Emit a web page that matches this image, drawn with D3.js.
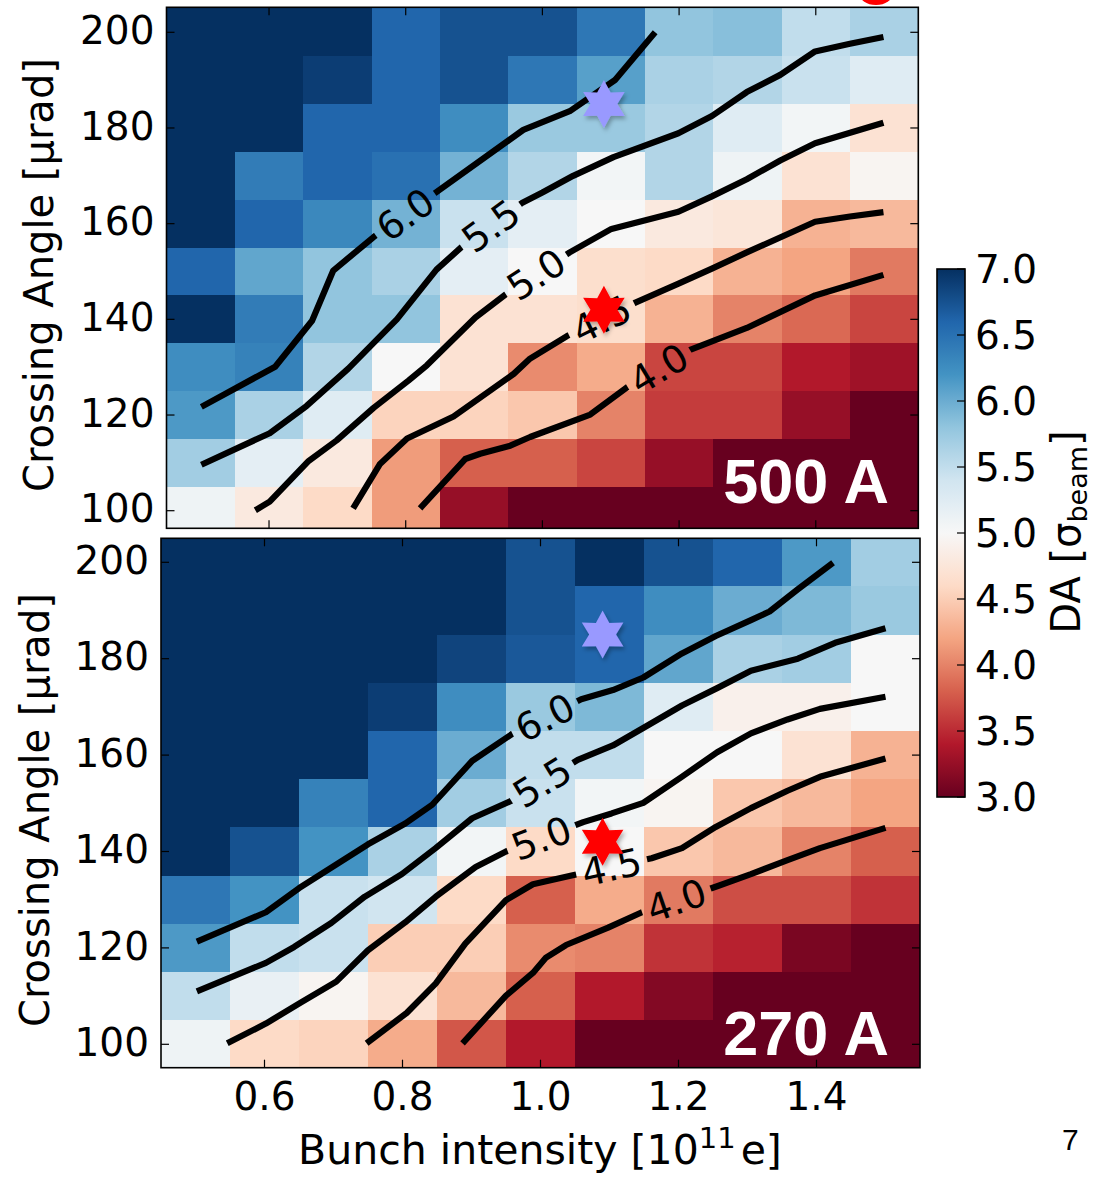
<!DOCTYPE html>
<html><head><meta charset="utf-8">
<script src="https://cdn.jsdelivr.net/npm/d3@7"></script>
<style>
body{margin:0;background:#fff}
svg{display:block}
text{font-family:"DejaVu Sans",sans-serif}
</style>
</head><body>
<svg id="c" width="1093" height="1177"></svg>
<script>
// ---------------- data ----------------
const xCenters = [0.5,0.6,0.7,0.8,0.9,1.0,1.1,1.2,1.3,1.4,1.5];
const yCenters = [200,190,180,170,160,150,140,130,120,110,100];
const xTicks = [0.6,0.8,1.0,1.2,1.4];
const yTicks = [100,120,140,160,180,200];
const cbTicks = [3.0,3.5,4.0,4.5,5.0,5.5,6.0,6.5,7.0];
const levelLabels = ["6.0","5.5","5.0","4.5","4.0"];

// DA values, rows from 200 down to 100 urad, columns 0.5 .. 1.5
const daTop = [
 [7.2,7.2,7.2,6.6,6.75,6.75,6.45,5.8,5.85,5.5,5.65],
 [7.2,7.2,6.9,6.6,6.75,6.45,6.1,5.65,5.6,5.45,5.25],
 [7.2,7.2,6.6,6.6,6.25,5.75,5.75,5.6,5.25,5.05,4.7],
 [7.2,6.4,6.6,6.5,5.95,5.6,5.05,5.6,5.1,4.7,4.95],
 [7.2,6.6,6.3,5.95,5.45,5.2,5.0,4.8,4.75,4.3,4.35],
 [6.6,6.05,5.8,5.65,5.2,5.0,4.65,4.6,4.3,4.2,3.95],
 [7.2,6.4,5.8,5.8,4.7,4.7,4.65,4.3,4.0,3.85,3.65],
 [6.25,6.35,5.6,5.0,4.7,4.05,4.25,3.65,3.65,3.4,3.3],
 [6.15,5.65,5.25,4.55,4.55,4.45,4.0,3.6,3.6,3.25,3.0],
 [5.7,5.2,4.8,4.15,3.8,3.8,3.65,3.25,3.0,3.0,3.0],
 [5.1,4.8,4.6,4.15,3.25,3.0,3.0,3.0,3.0,3.0,3.0]
];
const daBottom = [
 [7.2,7.2,7.2,7.2,7.2,6.75,7.0,6.75,6.6,6.15,5.7],
 [7.2,7.2,7.2,7.2,7.2,6.75,6.6,6.25,6.0,5.9,5.75],
 [7.2,7.2,7.2,7.2,6.85,6.7,6.6,6.05,5.65,5.7,5.0],
 [7.2,7.2,7.2,6.9,6.25,5.75,5.9,5.25,4.9,4.9,5.0],
 [7.2,7.2,7.2,6.6,6.0,5.5,5.5,5.0,5.0,4.7,4.3],
 [7.2,7.2,6.35,6.6,5.7,5.45,5.05,4.95,4.45,4.35,4.2],
 [7.2,6.75,6.2,5.65,5.05,4.6,5.0,4.45,4.35,4.0,3.8],
 [6.45,6.2,5.45,5.4,4.6,3.8,4.25,3.95,3.7,3.7,3.55],
 [6.15,5.5,5.45,4.5,4.5,4.05,4.0,3.55,3.45,3.1,3.0],
 [5.5,5.15,4.95,4.7,4.35,3.8,3.4,3.15,3.0,3.0,3.0],
 [5.1,4.6,4.55,4.25,3.75,3.4,3.0,3.0,3.0,3.0,3.0]
];

// contour lines, [intensity, angle]
const top60 = [[0.501,121.7],[0.609,130.1],[0.663,139.7],[0.694,150.2],[0.753,157.2],[0.840,166.1],[0.972,179.6],[1.04,183.5],[1.106,190.0],[1.165,200.0]];
const top55 = [[0.501,109.6],[0.601,116.2],[0.655,121.9],[0.716,129.7],[0.787,140.0],[0.845,150.4],[0.884,155.4],[0.970,164.3],[1.0,166.5],[1.045,170.0],[1.104,173.9],[1.199,178.9],[1.248,182.5],[1.299,187.5],[1.348,191.1],[1.399,196.0],[1.450,197.6],[1.499,199.0]];
const top50 = [[0.580,100.1],[0.601,101.9],[0.658,110.4],[0.699,114.7],[0.753,121.5],[0.804,127.2],[0.831,130.4],[0.902,140.4],[0.948,145.4],[1.040,154.0],[1.101,158.9],[1.199,162.5],[1.248,165.7],[1.299,169.3],[1.348,173.2],[1.399,176.8],[1.499,181.1]];
const top45 = [[0.723,100.5],[0.762,109.7],[0.802,115.1],[0.870,119.7],[0.958,128.6],[0.982,131.8],[1.036,136.5],[1.136,143.5],[1.2,147.5],[1.248,150.6],[1.299,154.0],[1.399,160.4],[1.450,161.5],[1.499,162.4]];
const top40 = [[0.821,100.5],[0.887,110.8],[0.909,111.9],[0.953,113.6],[0.982,115.4],[1.070,120.1],[1.124,125.8],[1.216,133.6],[1.299,138.2],[1.399,145.0],[1.499,149.3]];

const bot60 = [[0.502,121.3],[0.602,127.4],[0.650,132.4],[0.706,137.5],[0.750,141.5],[0.804,145.8],[0.843,149.7],[0.901,158.8],[0.960,164.5],[1.059,171.6],[1.105,173.5],[1.149,176.1],[1.205,181.1],[1.254,184.7],[1.305,188.0],[1.332,189.8],[1.373,194.4],[1.424,199.9]];
const bot55 = [[0.502,111.0],[0.602,116.9],[0.643,120.2],[0.697,125.2],[0.745,130.6],[0.799,135.3],[0.848,140.7],[0.901,146.9],[0.962,150.8],[1.054,159.0],[1.105,162.0],[1.157,166.3],[1.205,170.3],[1.256,173.9],[1.305,177.5],[1.373,180.0],[1.427,183.3],[1.5,186.3]];
const bot50 = [[0.546,100.2],[0.602,104.3],[0.653,108.7],[0.704,113.0],[0.750,119.5],[0.804,125.3],[0.848,130.6],[0.906,136.8],[0.950,140.0],[1.062,146.1],[1.103,147.9],[1.149,150.1],[1.205,155.5],[1.256,160.6],[1.305,164.5],[1.358,167.4],[1.405,169.6],[1.5,172.1]];
const bot45 = [[0.748,100.2],[0.806,106.5],[0.848,112.6],[0.891,120.9],[0.950,129.9],[0.989,133.2],[1.045,135.0],[1.161,138.6],[1.205,140.7],[1.254,145.1],[1.305,149.0],[1.358,152.6],[1.405,155.5],[1.5,159.3]];
const bot40 = [[0.887,100.2],[0.950,110.1],[0.989,114.8],[1.008,118.0],[1.037,120.6],[1.098,124.2],[1.147,127.4],[1.256,132.8],[1.305,135.3],[1.358,138.2],[1.405,140.7],[1.5,144.9]];

// contour label positions [intensity, angle]
const labelAtTop = [[0.80,161.8],[0.925,159.5],[0.99,149.6],[1.086,140.2],[1.17,129.8]];
const labelAtBottom = [[1.005,168.2],[1.0,155.0],[1.0,143.3],[1.103,136.8],[1.196,130.2]];

// working points (stars)
const starX = [1.09, 1.09];
const starY = [185, 142];
const starColors = ["#9999ff", "#ff0000"];

const captions = ["500 A", "270 A"];
const rdbu = ["#67001f","#b2182b","#d6604d","#f4a582","#fddbc7","#f7f7f7","#d1e5f0","#92c5de","#4393c3","#2166ac","#053061"];

// ---------------- drawing ----------------
const svg = d3.select("#c");
const defs = svg.append("defs");
const flt = defs.append("filter").attr("id","shadow").attr("x","-60%").attr("y","-60%").attr("width","220%").attr("height","220%");
flt.append("feDropShadow").attr("dx",2).attr("dy",3).attr("stdDeviation",2.2).attr("flood-color","#000").attr("flood-opacity",0.3);

const color = d3.scaleLinear()
  .domain(d3.range(11).map(i => 3 + 0.4 * i))
  .range(rdbu).interpolate(d3.interpolateRgb).clamp(true);

function hexagram(cx, cy, R, ratio) {
  const pts = [];
  for (let k = 0; k < 12; k++) {
    const a = (-90 + k * 30) * Math.PI / 180;
    const r = k % 2 === 0 ? R : R * ratio;
    pts.push([cx + r * Math.cos(a), cy + r * Math.sin(a)]);
  }
  return "M" + pts.map(p => p.join(",")).join("L") + "Z";
}

function nearestOnPath(pts, P) {
  let best = null;
  for (let i = 0; i < pts.length - 1; i++) {
    const A = pts[i], B = pts[i+1];
    const dx = B[0]-A[0], dy = B[1]-A[1];
    let t = ((P[0]-A[0])*dx + (P[1]-A[1])*dy) / (dx*dx+dy*dy);
    t = Math.max(0, Math.min(1, t));
    const Q = [A[0]+t*dx, A[1]+t*dy];
    const d = Math.hypot(Q[0]-P[0], Q[1]-P[1]);
    if (!best || d < best.d) best = {d, Q, ang: Math.atan2(dy, dx) * 180 / Math.PI};
  }
  return best;
}

function drawPanel(p) {
  const xs = d3.scaleLinear().domain([0.45,1.55]).range([p.left,p.right]);
  const ys = d3.scaleLinear().domain([100,200]).range([p.y100,p.y200]);
  const g = svg.append("g");

  defs.append("clipPath").attr("id", p.id+"clip")
    .append("rect").attr("x",p.left).attr("y",p.top)
    .attr("width",p.right-p.left).attr("height",p.bottom-p.top);

  // heatmap cells
  const cells = g.append("g").attr("clip-path",`url(#${p.id}clip)`).attr("shape-rendering","crispEdges");
  p.values.forEach((row, ri) => row.forEach((v, ci) => {
    const cx = xCenters[ci], cy = yCenters[ri];
    cells.append("rect")
      .attr("x", xs(cx-0.05)).attr("y", ys(cy+5))
      .attr("width", xs(cx+0.05)-xs(cx-0.05)).attr("height", ys(cy-5)-ys(cy+5))
      .attr("fill", color(v));
  }));

  // contour labels (measured first, to cut gaps in the lines)
  const mask = defs.append("mask").attr("id", p.id+"mask").attr("maskUnits","userSpaceOnUse")
    .attr("x",0).attr("y",0).attr("width",1093).attr("height",1177);
  mask.append("rect").attr("x",0).attr("y",0).attr("width",1093).attr("height",1177).attr("fill","#fff");

  const lineGen = d3.line().x(d => xs(d[0])).y(d => ys(d[1]));
  const lines = g.append("g").attr("clip-path",`url(#${p.id}clip)`)
    .append("g").attr("mask",`url(#${p.id}mask)`);
  const labG = g.append("g");

  p.contours.forEach((c, i) => {
    lines.append("path").attr("d", lineGen(c))
      .attr("fill","none").attr("stroke","#000").attr("stroke-width",6.2)
      .attr("stroke-linejoin","round").attr("stroke-linecap","butt");
    const pix = c.map(d => [xs(d[0]), ys(d[1])]);
    const L = p.labelsAt[i];
    const n = nearestOnPath(pix, [xs(L[0]), ys(L[1])]);
    let ang = n.ang;
    if (ang > 90) ang -= 180;
    if (ang < -90) ang += 180;
    const t = labG.append("text")
      .attr("transform", `translate(${n.Q[0]},${n.Q[1]}) rotate(${ang})`)
      .attr("text-anchor","middle").attr("dy","0.36em")
      .attr("font-size",38).attr("fill","#000")
      .text(levelLabels[i]);
    const w = t.node().getComputedTextLength();
    mask.append("rect")
      .attr("x", -w/2 - 6).attr("y", -14).attr("width", w + 12).attr("height", 28)
      .attr("transform", `translate(${n.Q[0]},${n.Q[1]}) rotate(${ang})`)
      .attr("fill","#000");
  });

  // stars
  starX.forEach((sx, i) => {
    g.append("path").attr("d", hexagram(xs(sx), ys(starY[i]), 24, 0.56))
      .attr("fill", starColors[i]).attr("filter","url(#shadow)");
  });

  // caption
  g.append("text").attr("x", 889).attr("y", p.captionY)
    .attr("text-anchor","end")
    .style("font-family","'Liberation Sans', Arial, sans-serif")
    .attr("font-weight","bold").attr("font-size",63).attr("fill","#fff")
    .text(p.caption);

  // frame
  g.append("rect").attr("x",p.left).attr("y",p.top)
    .attr("width",p.right-p.left).attr("height",p.bottom-p.top)
    .attr("fill","none").attr("stroke","#000").attr("stroke-width",1.6);

  // ticks (inward, all sides)
  const tk = g.append("g").attr("stroke","#000").attr("stroke-width",1.2);
  xTicks.forEach(v => {
    tk.append("line").attr("x1",xs(v)).attr("x2",xs(v)).attr("y1",p.top).attr("y2",p.top+8);
    tk.append("line").attr("x1",xs(v)).attr("x2",xs(v)).attr("y1",p.bottom).attr("y2",p.bottom-8);
  });
  yTicks.forEach(v => {
    tk.append("line").attr("x1",p.left).attr("x2",p.left+8).attr("y1",ys(v)).attr("y2",ys(v));
    tk.append("line").attr("x1",p.right).attr("x2",p.right-8).attr("y1",ys(v)).attr("y2",ys(v));
  });

  // y tick labels
  yTicks.forEach(v => {
    g.append("text").attr("x", p.left - 12).attr("y", ys(v)).attr("dy","0.3em")
      .attr("text-anchor","end").attr("font-size",39).text(d3.format("d")(v));
  });

  // y axis label
  g.append("text")
    .attr("transform", `translate(${p.ylabX},${p.ylabY}) rotate(-90)`)
    .attr("text-anchor","middle").attr("font-size",40)
    .text("Crossing Angle [μrad]");

  if (p.xLabels) {
    xTicks.forEach(v => {
      g.append("text").attr("x", xs(v)).attr("y", 1110)
        .attr("text-anchor","middle").attr("font-size",39).text(d3.format(".1f")(v));
    });
  }
}

drawPanel({id:"top", left:166.5, right:918.3, top:7.3, bottom:528.3, y100:510.7, y200:32.3,
  values: daTop, contours:[top60,top55,top50,top45,top40], labelsAt: labelAtTop,
  caption: captions[0], captionY: 503, ylabX: 53, ylabY: 275, xLabels:false});
drawPanel({id:"bot", left:161, right:920, top:538.3, bottom:1067.7, y100:1044.3, y200:562.3,
  values: daBottom, contours:[bot60,bot55,bot50,bot45,bot40], labelsAt: labelAtBottom,
  caption: captions[1], captionY: 1055, ylabX: 49, ylabY: 810, xLabels:true});

// x axis label
const xl = svg.append("text").attr("x", 540).attr("y", 1164).attr("text-anchor","middle").attr("font-size",41);
xl.append("tspan").text("Bunch intensity [10");
xl.append("tspan").attr("dy",-16).attr("font-size",29).text("11");
xl.append("tspan").attr("dy",16).attr("dx",5).text("e]");

// colorbar
const cb = {x:937, w:28, top:269, bottom:797};
const cy = d3.scaleLinear().domain([3,7]).range([cb.bottom, cb.top]);
const grad = defs.append("linearGradient").attr("id","cbgrad")
  .attr("x1",0).attr("y1",1).attr("x2",0).attr("y2",0);
d3.range(0, 1.0001, 0.025).forEach(t => {
  grad.append("stop").attr("offset", t).attr("stop-color", color(3 + 4*t));
});
svg.append("rect").attr("x",cb.x).attr("y",cb.top).attr("width",cb.w).attr("height",cb.bottom-cb.top)
  .attr("fill","url(#cbgrad)").attr("stroke","#000").attr("stroke-width",1.6);
cbTicks.forEach(v => {
  svg.append("line").attr("x1",cb.x+cb.w).attr("x2",cb.x+cb.w-8).attr("y1",cy(v)).attr("y2",cy(v))
    .attr("stroke","#000").attr("stroke-width",1.2);
  svg.append("text").attr("x", 975).attr("y", cy(v)).attr("dy","0.36em")
    .attr("font-size",39).text(d3.format(".1f")(v));
});
const cl = svg.append("text").attr("transform","translate(1080,532) rotate(-90)")
  .attr("text-anchor","middle").attr("font-size",40);
cl.append("tspan").text("DA [σ");
cl.append("tspan").attr("dy",7).attr("font-size",27).text("beam");
cl.append("tspan").attr("dy",-7).text("]");

// partial red glyph at the top edge and page number
svg.append("ellipse").attr("cx",876).attr("cy",-7).attr("rx",17).attr("ry",12).attr("fill","#ff0000");
svg.append("text").attr("x",1062).attr("y",1150)
  .style("font-family","'Liberation Sans', Arial, sans-serif").attr("font-size",30).text("7");
</script>
</body></html>
